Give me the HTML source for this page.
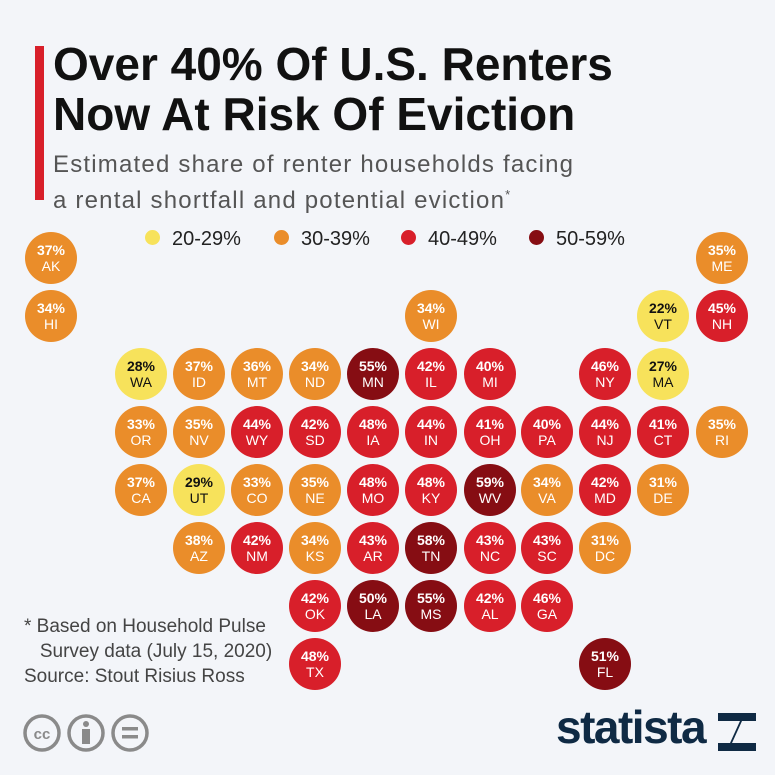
<!DOCTYPE html>
<html><head><meta charset="utf-8"><style>
body{margin:0;width:775px;height:775px;background:#f3f5f9;font-family:"Liberation Sans",sans-serif;position:relative;overflow:hidden}
.c{position:absolute;width:52px;height:52px;border-radius:50%;color:#fff;font-size:14px;line-height:16px;text-align:center;display:flex;flex-direction:column;justify-content:center}
.c b{font-weight:bold;display:block}
.O{background:#ea8d2a}.R{background:#d81f2a}.D{background:#860d13}.Y{background:#f7e25b;color:#111}
.t{position:absolute;left:53px;top:39px;font-size:46px;font-weight:bold;line-height:50px;color:#111}
.s{position:absolute;left:53px;top:150px;font-size:24px;letter-spacing:1.2px;line-height:30px;color:#555}
.lg{position:absolute;top:228px;font-size:20px;color:#222}
.dot{display:inline-block;width:15px;height:15px;border-radius:50%;margin-right:12px;vertical-align:0px}
.f{position:absolute;left:24px;top:614px;font-size:19px;line-height:25px;color:#444}
</style></head><body>
<div style="position:absolute;left:35px;top:46px;width:9px;height:154px;background:#d81f2a"></div>
<div class="t">Over 40% Of U.S. Renters<br>Now At Risk Of Eviction</div>
<div class="s">Estimated share of renter households facing<br>a rental shortfall and potential eviction<sup style="font-size:13px">*</sup></div>
<div class="lg" style="left:145px"><span class="dot" style="background:#f7e25b"></span>20-29%</div>
<div class="lg" style="left:274px"><span class="dot" style="background:#ea8d2a"></span>30-39%</div>
<div class="lg" style="left:401px"><span class="dot" style="background:#d81f2a"></span>40-49%</div>
<div class="lg" style="left:529px"><span class="dot" style="background:#860d13"></span>50-59%</div>

<div class="c O" style="left:25px;top:232px"><b>37%</b>AK</div>
<div class="c O" style="left:696px;top:232px"><b>35%</b>ME</div>
<div class="c O" style="left:25px;top:290px"><b>34%</b>HI</div>
<div class="c O" style="left:405px;top:290px"><b>34%</b>WI</div>
<div class="c Y" style="left:637px;top:290px"><b>22%</b>VT</div>
<div class="c R" style="left:696px;top:290px"><b>45%</b>NH</div>

<div class="c Y" style="left:115px;top:348px"><b>28%</b>WA</div>
<div class="c O" style="left:173px;top:348px"><b>37%</b>ID</div>
<div class="c O" style="left:231px;top:348px"><b>36%</b>MT</div>
<div class="c O" style="left:289px;top:348px"><b>34%</b>ND</div>
<div class="c D" style="left:347px;top:348px"><b>55%</b>MN</div>
<div class="c R" style="left:405px;top:348px"><b>42%</b>IL</div>
<div class="c R" style="left:464px;top:348px"><b>40%</b>MI</div>
<div class="c R" style="left:579px;top:348px"><b>46%</b>NY</div>
<div class="c Y" style="left:637px;top:348px"><b>27%</b>MA</div>

<div class="c O" style="left:115px;top:406px"><b>33%</b>OR</div>
<div class="c O" style="left:173px;top:406px"><b>35%</b>NV</div>
<div class="c R" style="left:231px;top:406px"><b>44%</b>WY</div>
<div class="c R" style="left:289px;top:406px"><b>42%</b>SD</div>
<div class="c R" style="left:347px;top:406px"><b>48%</b>IA</div>
<div class="c R" style="left:405px;top:406px"><b>44%</b>IN</div>
<div class="c R" style="left:464px;top:406px"><b>41%</b>OH</div>
<div class="c R" style="left:521px;top:406px"><b>40%</b>PA</div>
<div class="c R" style="left:579px;top:406px"><b>44%</b>NJ</div>
<div class="c R" style="left:637px;top:406px"><b>41%</b>CT</div>
<div class="c O" style="left:696px;top:406px"><b>35%</b>RI</div>

<div class="c O" style="left:115px;top:464px"><b>37%</b>CA</div>
<div class="c Y" style="left:173px;top:464px"><b>29%</b>UT</div>
<div class="c O" style="left:231px;top:464px"><b>33%</b>CO</div>
<div class="c O" style="left:289px;top:464px"><b>35%</b>NE</div>
<div class="c R" style="left:347px;top:464px"><b>48%</b>MO</div>
<div class="c R" style="left:405px;top:464px"><b>48%</b>KY</div>
<div class="c D" style="left:464px;top:464px"><b>59%</b>WV</div>
<div class="c O" style="left:521px;top:464px"><b>34%</b>VA</div>
<div class="c R" style="left:579px;top:464px"><b>42%</b>MD</div>
<div class="c O" style="left:637px;top:464px"><b>31%</b>DE</div>

<div class="c O" style="left:173px;top:522px"><b>38%</b>AZ</div>
<div class="c R" style="left:231px;top:522px"><b>42%</b>NM</div>
<div class="c O" style="left:289px;top:522px"><b>34%</b>KS</div>
<div class="c R" style="left:347px;top:522px"><b>43%</b>AR</div>
<div class="c D" style="left:405px;top:522px"><b>58%</b>TN</div>
<div class="c R" style="left:464px;top:522px"><b>43%</b>NC</div>
<div class="c R" style="left:521px;top:522px"><b>43%</b>SC</div>
<div class="c O" style="left:579px;top:522px"><b>31%</b>DC</div>

<div class="c R" style="left:289px;top:580px"><b>42%</b>OK</div>
<div class="c D" style="left:347px;top:580px"><b>50%</b>LA</div>
<div class="c D" style="left:405px;top:580px"><b>55%</b>MS</div>
<div class="c R" style="left:464px;top:580px"><b>42%</b>AL</div>
<div class="c R" style="left:521px;top:580px"><b>46%</b>GA</div>

<div class="c R" style="left:289px;top:638px"><b>48%</b>TX</div>
<div class="c D" style="left:579px;top:638px"><b>51%</b>FL</div>

<div class="f">* Based on Household Pulse<br>&nbsp;&nbsp;&nbsp;Survey data (July 15, 2020)<br>Source: Stout Risius Ross</div>

<svg style="position:absolute;left:22px;top:712px" width="140" height="42">
<g fill="none" stroke="#8a8a8a" stroke-width="3.5">
<circle cx="20" cy="21" r="17"/><circle cx="64" cy="21" r="17"/><circle cx="108" cy="21" r="17"/></g>
<text x="20" y="27" font-size="15" font-weight="bold" fill="#8a8a8a" text-anchor="middle" font-family="Liberation Sans">cc</text>
<circle cx="64" cy="12" r="3" fill="#8a8a8a"/><rect x="60" y="17" width="8" height="15" fill="#8a8a8a"/>
<rect x="100" y="15" width="16" height="3.5" fill="#8a8a8a"/><rect x="100" y="23" width="16" height="3.5" fill="#8a8a8a"/>
</svg>
<div style="position:absolute;left:556px;top:700px;font-size:46px;font-weight:bold;color:#0f2a44;letter-spacing:-1.5px">statista</div>
<svg style="position:absolute;left:718px;top:713px" width="38" height="38"><path d="M0 0H38V8L24 8L14 30H38V38H0V30L12 30L22 8H0Z" fill="#0f2a44"/></svg>
</body></html>
